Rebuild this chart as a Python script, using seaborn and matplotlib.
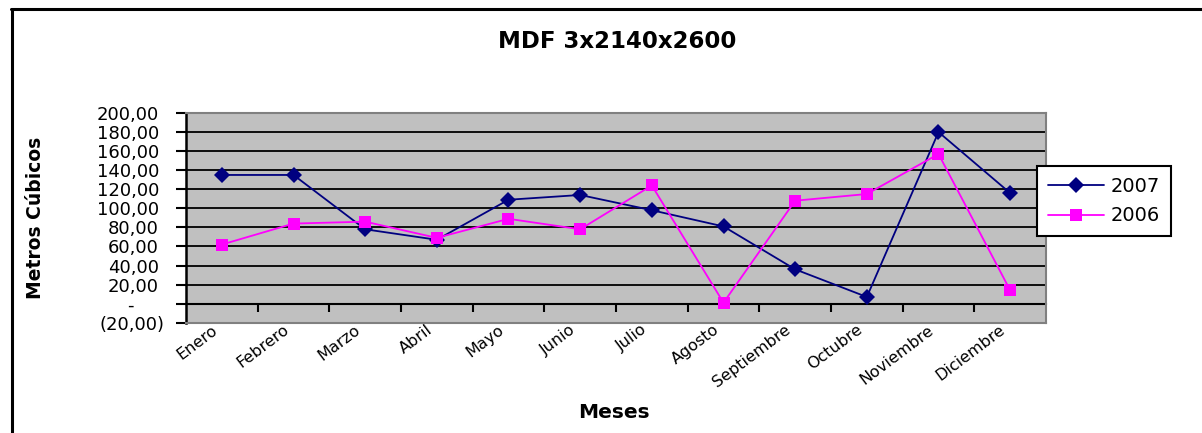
import numpy as np
import pandas as pd
import matplotlib
matplotlib.use("Agg")
import matplotlib.pyplot as plt
import matplotlib.transforms as mtransforms
from matplotlib.lines import Line2D
import seaborn as sns

# Monthly volumes (cubic metres) of MDF 3x2140x2600 boards
meses = ["Enero", "Febrero", "Marzo", "Abril", "Mayo", "Junio", "Julio",
         "Agosto", "Septiembre", "Octubre", "Noviembre", "Diciembre"]
valores_2007 = [135, 135, 78, 67, 109, 114, 98, 81, 36, 7, 180, 116]
valores_2006 = [62, 84, 86, 69, 89, 78, 124, 1, 108, 115, 157, 14]
series = ["2007", "2006"]
y_ticks = list(range(-20, 201, 20))

df = pd.DataFrame({
    "Mes": meses * 2,
    "Valor": valores_2007 + valores_2006,
    "Serie": ["2007"] * len(meses) + ["2006"] * len(meses),
})

sns.set_theme(style="white")
plt.rcParams["font.family"] = ["DejaVu Sans"]
plt.rcParams.update({"text.color": "black", "axes.labelcolor": "black",
                     "xtick.color": "black", "ytick.color": "black"})

W, H = 1202, 433
fig = plt.figure(figsize=(W / 100, H / 100), dpi=100)
ax = fig.add_axes([186 / W, 1 - 322.7 / H, 860 / W, 209.7 / H])
ax.set_facecolor("#C0C0C0")

sns.lineplot(data=df, x="Mes", y="Valor", hue="Serie", style="Serie",
             hue_order=series, style_order=series,
             palette={"2007": "#000080", "2006": "#FF00FF"},
             markers={"2007": "D", "2006": "s"}, dashes=False,
             sort=False, linewidth=1.3, markersize=8, markeredgewidth=0,
             ax=ax, zorder=5)

ax.set_xlim(-0.5, len(meses) - 0.5)
ax.set_ylim(-20, 200)

# Horizontal gridlines
ax.set_yticks(y_ticks)
ax.yaxis.grid(True, color="black", linewidth=1.3)
ax.xaxis.grid(False)


def fmt(v):
    if v == 0:
        return "-"
    if v < 0:
        return "({:.2f})".format(-v).replace(".", ",")
    return "{:.2f}".format(v).replace(".", ",")


ax.set_yticklabels([fmt(v) for v in y_ticks], fontsize=13)
ax.tick_params(axis="y", direction="out", length=7, width=1.5,
               labelcolor="black", color="black", pad=12.5, left=True)

# Accounting-style alignment: dash sits left, negatives overhang with ")"
for v, lab in zip(y_ticks, ax.get_yticklabels()):
    dx = 0
    if v == 0:
        dx = -25
    elif v < 0:
        dx = 6
    lab.set_transform(lab.get_transform() +
                      mtransforms.ScaledTranslation(dx / 100, 0, fig.dpi_scale_trans))

# Category labels along the bottom of the plot area
ax.tick_params(axis="x", length=0, pad=0, bottom=True, labelcolor="black")
ax.set_xticks(range(len(meses)))
ax.set_xticklabels(meses, fontsize=11.5, rotation=37, ha="right", va="top",
                   rotation_mode="anchor")
for lab in ax.get_xticklabels():
    lab.set_transform(lab.get_transform() +
                      mtransforms.ScaledTranslation(-11 / 100, 0.5 / 100, fig.dpi_scale_trans))

# Plot area border
for side in ["top", "right", "bottom"]:
    ax.spines[side].set_color("#808080")
    ax.spines[side].set_linewidth(1.5)
ax.spines["left"].set_color("black")
ax.spines["left"].set_linewidth(1.8)

# Category axis crossing at zero, ticks between categories
sec = ax.secondary_xaxis(0, transform=ax.transData)
sec.set_xticks(np.arange(0.5, len(meses) - 0.5, 1.0))
sec.set_xticklabels([])
sec.tick_params(axis="x", direction="out", length=6, width=1.5, color="black")
sec.spines["bottom"].set_color("black")
sec.spines["bottom"].set_linewidth(1.5)

ax.set_xlabel("Meses", fontsize=14.5, fontweight="bold", color="black")
ax.xaxis.set_label_coords(0.4977, -0.383)
ax.set_ylabel("Metros Cúbicos", fontsize=13.5, fontweight="bold", color="black")
ax.yaxis.set_label_coords(-0.164, 0.5)

fig.text(617 / W, 1 - 42 / H, "MDF 3x2140x2600", fontsize=16.5,
         fontweight="bold", ha="center", va="center", color="black")

leg = ax.legend(loc="upper left", bbox_to_anchor=(1037 / W, 1 - 166 / H),
                bbox_transform=fig.transFigure, fontsize=14, frameon=True,
                fancybox=False, borderaxespad=0, handlelength=2.9,
                handletextpad=0.35, labelspacing=0.55, borderpad=0.55,
                title=None)
leg.get_frame().set_edgecolor("black")
leg.get_frame().set_linewidth(1.5)
leg.get_frame().set_facecolor("white")
leg.get_frame().set_alpha(1)
for t in leg.get_texts():
    t.set_color("black")

# Outer chart frame
fig.add_artist(Line2D([11 / W, 1], [1 - 8.5 / H, 1 - 8.5 / H],
                      transform=fig.transFigure, color="black", linewidth=2.2))
fig.add_artist(Line2D([11.5 / W, 11.5 / W], [0, 1 - 8.5 / H],
                      transform=fig.transFigure, color="black", linewidth=2.2))

fig.savefig("out.png", dpi=100, facecolor="white")
